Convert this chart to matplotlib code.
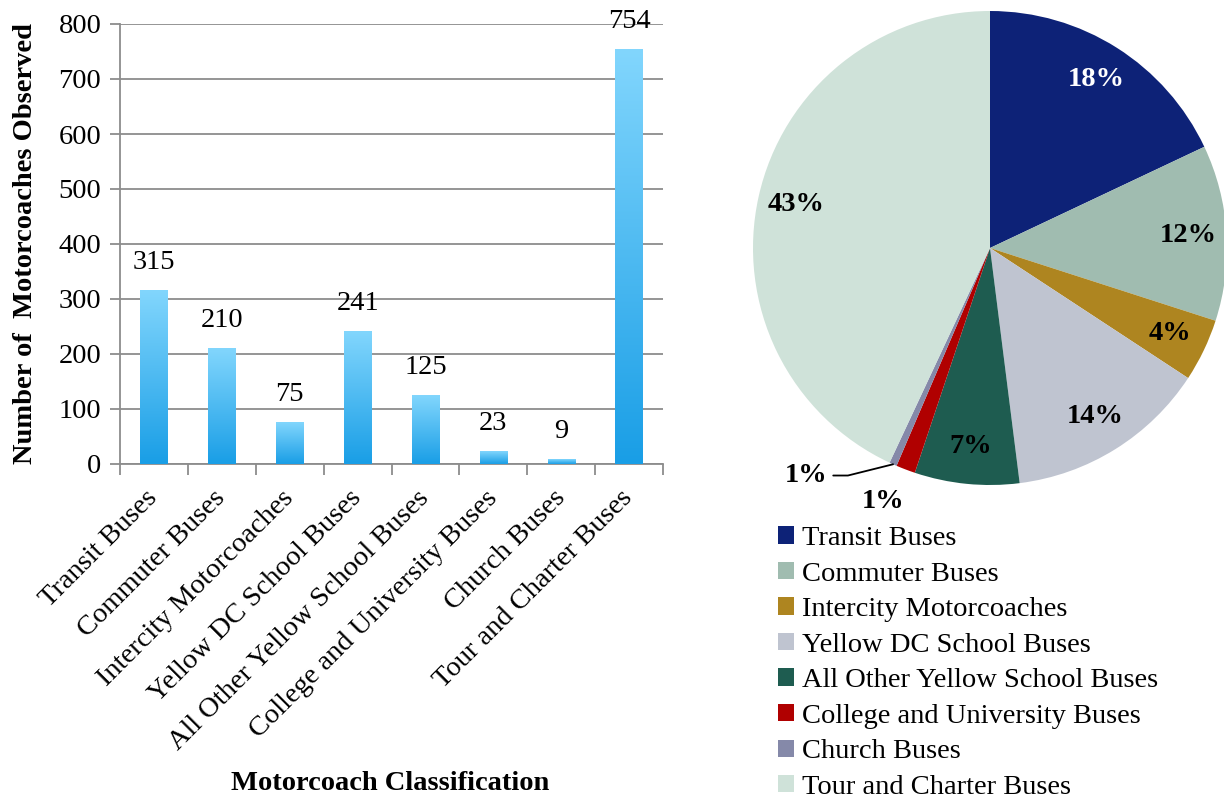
import numpy as np
import matplotlib
matplotlib.use("Agg")
import matplotlib.pyplot as plt
from matplotlib.colors import LinearSegmentedColormap

plt.rcParams['font.family'] = ['Liberation Serif', 'DejaVu Serif']

categories = ["Transit Buses", "Commuter Buses", "Intercity Motorcoaches",
              "Yellow DC School Buses", "All Other Yellow School Buses",
              "College and University Buses", "Church Buses", "Tour and Charter Buses"]
counts = [315, 210, 75, 241, 125, 23, 9, 754]
pie_colors = ["#0d2277", "#a0bcb0", "#ae8520", "#bfc4d0",
              "#1e5c50", "#b00000", "#8589a9", "#cfe2d9"]

FS = 20.5
fig = plt.figure(figsize=(12.24, 8), dpi=100)

# ---- bar chart ----
ax = fig.add_axes([120/1224, 1-464/800, 543/1224, 440/800])
x = np.arange(len(categories))
bars = ax.bar(x, counts, width=0.4, color='none', edgecolor='none', zorder=3)
cmap = LinearSegmentedColormap.from_list('bluegrad', ['#199ee6', '#82d6fd'])
grad = np.linspace(0, 1, 256).reshape(-1, 1)
for b in bars:
    x0, w, h = b.get_x(), b.get_width(), b.get_height()
    ax.imshow(grad, extent=[x0, x0 + w, 0, h], origin='lower', aspect='auto',
              cmap=cmap, zorder=3)
for xi, v in zip(x, counts):
    ax.annotate(str(v), (xi, v), xytext=(0, 11), textcoords='offset points',
                ha='center', va='bottom', fontsize=FS)

ax.set_xlim(-0.5, len(categories) - 0.5)
ax.set_ylim(0, 800)
ax.set_yticks(range(0, 801, 100))
ax.yaxis.grid(True, color='#8c8c8c', linewidth=1.3, zorder=0)
ax.set_axisbelow(True)
for s in ['top', 'right']:
    ax.spines[s].set_visible(False)
for s in ['left', 'bottom']:
    ax.spines[s].set_color('#8c8c8c')
    ax.spines[s].set_linewidth(1.3)
ax.tick_params(axis='y', length=7, color='#8c8c8c', width=1.3, labelsize=FS, pad=6.5)
ax.set_xticks(x)
ax.set_xticklabels(categories, rotation=45, ha='right', va='center',
                   rotation_mode='anchor', fontsize=FS)
ax.tick_params(axis='x', length=0, pad=22)
ax.set_xticks(np.arange(-0.5, len(categories)), minor=True)
ax.tick_params(axis='x', which='minor', length=8, color='#8c8c8c', width=1.3)
ax.set_ylabel("Number of  Motorcoaches Observed", fontsize=FS, fontweight='bold', labelpad=15)
fig.text(390/1224, 1-783/800, "Motorcoach Classification", fontsize=FS,
         fontweight='bold', ha='center', va='center')

# ---- pie chart ----
pax = fig.add_axes([(990-237)/1224, (800-248-237)/800, 474/1224, 474/800])
wedges, texts, autotexts = pax.pie(counts, colors=pie_colors, startangle=90,
                                   counterclock=False, autopct='%1.0f%%',
                                   pctdistance=0.84, radius=1,
                                   textprops=dict(fontsize=FS, fontweight='bold'))
pax.set_xlim(-1, 1)
pax.set_ylim(-1, 1)
pax.set_aspect('equal')
autotexts[0].set_color('white')

# College label outside
w = wedges[5]
ang = np.deg2rad((w.theta1 + w.theta2) / 2 - 2)
autotexts[5].set_position((1.16 * np.cos(ang), 1.16 * np.sin(ang)))
# Church label with leader line
w = wedges[6]
ang = np.deg2rad((w.theta1 + w.theta2) / 2)
autotexts[6].set_visible(False)
pax.annotate(autotexts[6].get_text(), (np.cos(ang), np.sin(ang)),
             xytext=(-0.685, -0.96), ha='right', va='center',
             fontsize=FS, fontweight='bold',
             arrowprops=dict(arrowstyle='-', color='black', lw=1.3,
                             connectionstyle='angle,angleA=0,angleB=14,rad=0',
                             shrinkA=2, shrinkB=0))

fig.legend(wedges, categories, loc='upper left', bbox_to_anchor=(778/1224, 1-526/800),
           frameon=False, fontsize=FS, handlelength=0.55, handleheight=0.55,
           handletextpad=0.3, labelspacing=0.37, borderaxespad=0, borderpad=0)

fig.savefig("out.png", dpi=100)
